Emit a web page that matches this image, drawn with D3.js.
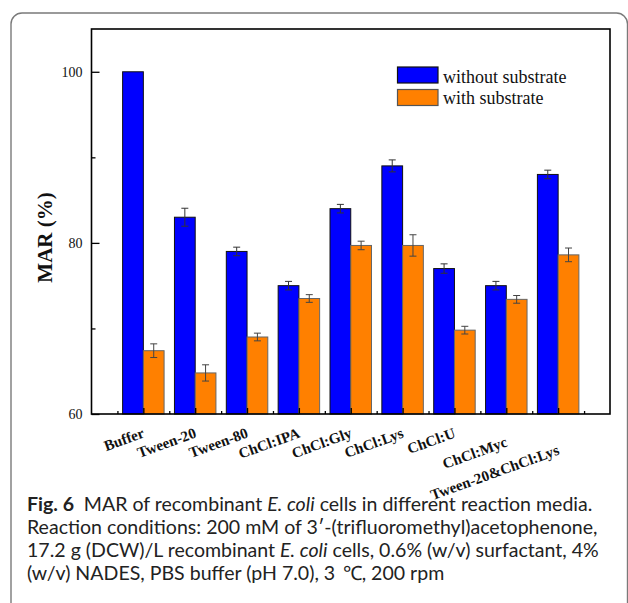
<!DOCTYPE html>
<html><head><meta charset="utf-8">
<script src="https://cdn.jsdelivr.net/npm/d3@7"></script>
<style>body{margin:0;background:#fff}svg{display:block}</style>
</head><body>
<svg id="c" width="628" height="603"></svg>
<script>
const categories = ["Buffer","Tween-20","Tween-80","ChCl:IPA","ChCl:Gly","ChCl:Lys","ChCl:U","ChCl:Myc","Tween-20&ChCl:Lys"];
const withoutSubstrate    = [100, 83, 79, 75, 84, 89, 77, 75, 88];
const withoutSubstrateErr = [0, 1.05, 0.5, 0.5, 0.5, 0.7, 0.55, 0.5, 0.5];
const withSubstrate       = [67.4, 64.8, 69, 73.5, 79.7, 79.7, 69.8, 73.4, 78.6];
const withSubstrateErr    = [0.8, 0.95, 0.45, 0.45, 0.5, 1.25, 0.45, 0.45, 0.8];
const seriesNames = ["without substrate", "with substrate"];
const yTicks = [60, 80, 100];
const yMinorTicks = [70, 90];
const yLabel = "MAR (%)";
const captionLines = [
  [["Fig. 6","b"],["\u2002MAR of recombinant ",""],["E. coli","i"],[" cells in different reaction media.",""]],
  [["Reaction conditions: 200 mM of 3\u2032-(trifluoromethyl)acetophenone,",""]],
  [["17.2 g (DCW)/L recombinant ",""],["E. coli","i"],[" cells, 0.6% (w/v) surfactant, 4%",""]],
  [["(w/v) NADES, PBS buffer (pH 7.0), 3 \u2009\u2103, 200 rpm",""]]
];

const svg = d3.select("#c");
const L = 91.5, R = 610, T = 29, B = 414;

// outer rounded panel
svg.append("rect").attr("x", 11).attr("y", 13).attr("width", 616.5).attr("height", 640)
  .attr("rx", 11).attr("fill", "none").attr("stroke", "#7a7a7a").attr("stroke-width", 1.4);

const x = d3.scaleLinear().domain([0, 10]).range([L, R]);
const y = d3.scaleLinear().domain([60, 105]).range([B, T]);
const bw = 0.4;

const series = [
  {vals: withoutSubstrate, err: withoutSubstrateErr, fill: "#0000ff", stroke: "#111", ecol: "#333", off: -bw},
  {vals: withSubstrate, err: withSubstrateErr, fill: "#ff8000", stroke: "#666", ecol: "#444", off: 0}
];

const plot = svg.append("g");
series.forEach(s => {
  plot.selectAll(null).data(s.vals).join("rect")
    .attr("x", (d, i) => x(i + 1 + s.off))
    .attr("width", x(bw) - x(0))
    .attr("y", d => y(d))
    .attr("height", d => y(60) - y(d))
    .attr("fill", s.fill).attr("stroke", s.stroke).attr("stroke-width", 1);
  const eb = plot.selectAll(null).data(s.vals.map((v, i) => ({v, e: s.err[i], i}))
      .filter(d => d.e > 0)).join("g").attr("stroke", s.ecol).attr("stroke-width", 1);
  eb.append("line")
    .attr("x1", d => x(d.i + 1 + s.off + bw / 2)).attr("x2", d => x(d.i + 1 + s.off + bw / 2))
    .attr("y1", d => y(d.v - d.e)).attr("y2", d => y(d.v + d.e));
  [-1, 1].forEach(sg => eb.append("line")
    .attr("x1", d => x(d.i + 1 + s.off + bw / 2) - 3.5).attr("x2", d => x(d.i + 1 + s.off + bw / 2) + 3.5)
    .attr("y1", d => y(d.v + sg * d.e)).attr("y2", d => y(d.v + sg * d.e)));
});

// y axis (ticks inward)
svg.append("g").attr("transform", `translate(${L},0)`)
  .call(d3.axisRight(y).tickValues(yTicks).tickSize(8).tickFormat(""))
  .call(g => g.select(".domain").remove())
  .selectAll("line").attr("stroke", "#000").attr("stroke-width", 1.3);
svg.append("g").attr("transform", `translate(${L},0)`)
  .call(d3.axisRight(y).tickValues(yMinorTicks).tickSize(4).tickFormat(""))
  .call(g => g.select(".domain").remove())
  .selectAll("line").attr("stroke", "#000").attr("stroke-width", 1.3);
svg.append("g").selectAll("text").data(yTicks).join("text")
  .attr("x", L - 9).attr("y", d => y(d)).attr("dy", "0.34em")
  .attr("text-anchor", "end").attr("font-family", "Liberation Serif").attr("font-size", 14)
  .attr("fill", "#111").text(d => d);

// x axis ticks inward
svg.append("g").attr("transform", `translate(0,${B})`)
  .call(d3.axisTop(x).tickValues(d3.range(1, 10)).tickSize(6).tickFormat(""))
  .call(g => g.select(".domain").remove())
  .selectAll("line").attr("stroke", "#000").attr("stroke-width", 1.3);
svg.append("g").attr("transform", `translate(0,${B})`)
  .call(d3.axisTop(x).tickValues(d3.range(0.5, 10, 1)).tickSize(3).tickFormat(""))
  .call(g => g.select(".domain").remove())
  .selectAll("line").attr("stroke", "#000").attr("stroke-width", 1.3);

// frame
svg.append("rect").attr("x", L).attr("y", T).attr("width", R - L).attr("height", B - T)
  .attr("fill", "none").attr("stroke", "#000").attr("stroke-width", 1.6);

// x labels (last two nudged down to avoid overlap, as in the original)
const nudge = i => (i === 7 ? 9 : i === 8 ? 17 : 0);
svg.append("g").selectAll("text").data(categories).join("text")
  .attr("transform", (d, i) => `translate(${x(i + 1) + 2},${437 + nudge(i)}) rotate(-20)`)
  .attr("text-anchor", "end").attr("font-family", "Liberation Serif").attr("font-weight", "bold")
  .attr("font-size", 15).attr("fill", "#111").text(d => d);

// y label
svg.append("text").attr("transform", "translate(51.5,237.5) rotate(-90)")
  .attr("text-anchor", "middle").attr("font-family", "Liberation Serif").attr("font-weight", "bold")
  .attr("font-size", 21).attr("fill", "#111").text(yLabel);

// legend
const lg = svg.append("g");
series.forEach((s, k) => {
  lg.append("rect").attr("x", 397.5).attr("y", 67 + k * 22.5).attr("width", 40.5).attr("height", 16)
    .attr("fill", s.fill).attr("stroke", k ? "#555" : "#111").attr("stroke-width", 1.2);
  lg.append("text").attr("x", 443).attr("y", 82.5 + k * 21).attr("font-family", "Liberation Serif")
    .attr("font-size", 18).attr("fill", "#111").text(seriesNames[k]);
});

// caption
const cap = svg.append("g").attr("font-family", "Lato").attr("fill", "#222");
const texts = captionLines.map((line, li) => {
  const t = cap.append("text").attr("x", 27).attr("y", 511 + li * 23).attr("font-size", 16);
  line.forEach(([str, st]) => {
    const ts = t.append("tspan").text(str);
    if (st === "b") ts.attr("font-weight", "bold");
    if (st === "i") ts.attr("font-style", "italic");
  });
  return t;
});
const w2 = texts[1].node().getComputedTextLength();
const fs = 16 * 571 / w2;
texts.forEach(t => t.attr("font-size", fs));
</script>
</body></html>
